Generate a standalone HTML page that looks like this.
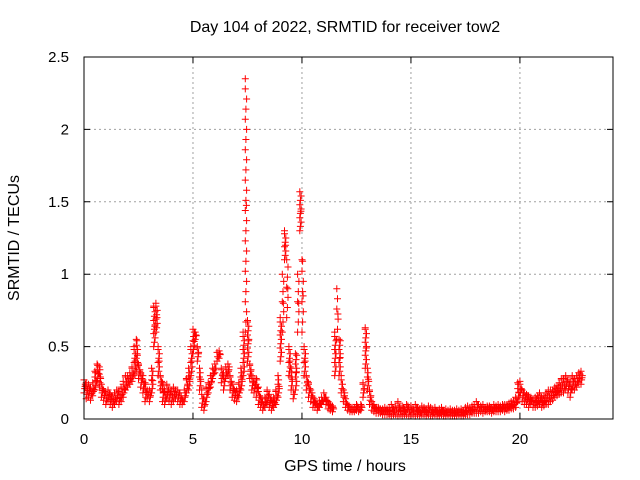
<!DOCTYPE html>
<html><head><meta charset="utf-8"><style>
body{margin:0;background:#fff;}
svg{display:block;font-family:"Liberation Sans",sans-serif;}
</style></head><body>
<svg id="chart" width="640" height="480">
<text x="345" y="32" font-size="16" text-anchor="middle">Day 104 of 2022, SRMTID for receiver tow2</text>
<g id="grid"></g>
<g id="ticks"></g>
<g id="marks"></g>
<rect x="84" y="57" width="529" height="362" fill="none" stroke="#000" stroke-width="1"/>
<text x="345" y="471" font-size="16" text-anchor="middle">GPS time / hours</text>
<text transform="translate(19,238) rotate(-90)" font-size="16" text-anchor="middle">SRMTID / TECUs</text>
</svg>
<script>
const xTicks=[0,5,10,15,20];
const yTicks=[0,0.5,1,1.5,2,2.5];
const yTickLabels=["0","0.5","1","1.5","2","2.5"];
const lo=[.18,.14,.15,.13,.16,.2,.25,.22,.15,.13,
.1,.12,.1,.08,.1,.12,.1,.12,.15,.2,
.22,.24,.26,.3,.33,.28,.22,.18,.12,.14,
.12,.18,.5,.6,.3,.2,.12,.1,.14,.12,
.1,.12,.14,.12,.1,.1,.12,.18,.2,.3,
.45,.55,.4,.2,.08,.06,.12,.18,.22,.28,
.32,.4,.42,.25,.2,.28,.3,.2,.15,.13,
.12,.15,.2,.3,.6,.4,.28,.2,.18,.15,
.1,.08,.06,.08,.1,.08,.06,.08,.1,.15,
.4,.6,1.1,.7,.3,.2,.14,.2,.6,1.3,
.6,.3,.2,.15,.12,.08,.08,.06,.08,.1,
.12,.1,.07,.06,.05,.3,.55,.3,.18,.12,
.08,.06,.05,.05,.05,.06,.05,.06,.15,.35,
.2,.1,.06,.05,.04,.04,.04,.03,.03,.03,
.03,.02,.03,.03,.02,.03,.02,.03,.03,.02,
.03,.03,.02,.03,.02,.03,.03,.02,.03,.02,
.02,.03,.02,.02,.03,.02,.02,.03,.02,.02,
.02,.02,.03,.02,.02,.03,.03,.03,.04,.04,
.04,.04,.05,.04,.05,.05,.05,.04,.05,.05,
.05,.05,.06,.05,.06,.06,.07,.07,.08,.12,
.15,.12,.1,.1,.08,.1,.08,.08,.09,.1,
.08,.09,.1,.1,.12,.13,.15,.16,.17,.18,
.18,.2,.18,.15,.2,.2,.22,.25,.24];
const hi=[.27,.25,.24,.22,.25,.33,.38,.36,.24,.2,
.18,.2,.17,.16,.18,.2,.19,.22,.26,.3,
.3,.32,.36,.5,.55,.38,.32,.3,.25,.2,
.2,.35,.78,.8,.5,.3,.25,.2,.24,.2,
.2,.22,.2,.2,.18,.14,.2,.28,.35,.5,
.62,.6,.5,.35,.2,.14,.22,.25,.3,.35,
.38,.46,.47,.35,.32,.36,.38,.3,.24,.2,
.2,.25,.35,.6,2.35,.68,.38,.3,.25,.28,
.22,.15,.12,.15,.2,.17,.13,.15,.2,.3,
.7,1.0,1.3,1.1,.5,.35,.2,.45,1.0,1.57,
1.1,.5,.3,.25,.2,.15,.12,.1,.13,.15,
.18,.15,.12,.1,.09,.6,.9,.55,.3,.2,
.14,.1,.08,.08,.08,.1,.08,.1,.25,.63,
.35,.2,.12,.1,.08,.08,.07,.07,.08,.07,
.08,.1,.07,.09,.12,.08,.09,.07,.1,.08,
.09,.07,.1,.08,.07,.09,.08,.07,.09,.08,
.07,.08,.06,.07,.08,.06,.07,.06,.07,.06,
.06,.07,.06,.07,.06,.08,.09,.08,.09,.1,
.12,.1,.09,.1,.08,.09,.09,.08,.1,.09,
.1,.09,.1,.1,.1,.11,.12,.13,.15,.25,
.26,.2,.18,.17,.16,.15,.14,.15,.16,.18,
.15,.16,.18,.2,.2,.2,.22,.23,.25,.28,
.28,.3,.27,.26,.3,.28,.3,.32,.33];
const X0=84,X1=613,Y0=419,Y1=57,XMAX=24.27,YMAX=2.5;
const sx=t=>X0+(X1-X0)*t/XMAX;
const sy=v=>Y0-(Y0-Y1)*v/YMAX;
const NS="http://www.w3.org/2000/svg";
const grid=document.getElementById('grid'),ticks=document.getElementById('ticks'),marks=document.getElementById('marks');
function mk(tag,attrs,parent){const e=document.createElementNS(NS,tag);for(const k in attrs)e.setAttribute(k,attrs[k]);parent.appendChild(e);return e;}
xTicks.forEach((t,i)=>{
  const x=sx(t);
  if(t>0){const g=mk('line',{x1:x,x2:x,y1:Y0,y2:Y1,stroke:'#a0a0a0','stroke-dasharray':'2,3'},grid);
  
  }
  const tk=mk('path',{d:`M${x},${Y0}v-6M${x},${Y1}v6`,stroke:'#000'},ticks);
  
  
  const l=mk('text',{x:x,y:444,'font-size':15,'text-anchor':'middle'},ticks);l.textContent=String(t);
  
  
});
yTicks.forEach((v,i)=>{
  const y=sy(v);
  if(v>0&&v<YMAX){const g=mk('line',{x1:X0,x2:X1,y1:y,y2:y,stroke:'#a0a0a0','stroke-dasharray':'2,3'},grid);
  
  }
  const tk=mk('path',{d:`M${X0},${y}h6M${X1},${y}h-6`,stroke:'#000'},ticks);
  
  
  const l=mk('text',{x:69,y:y+5,'font-size':15,'text-anchor':'end'},ticks);l.textContent=yTickLabels[i];
  
  
});
let d='';
const plus=(t,v)=>{const x=sx(t),y=sy(v);d+=`M${(x-3.5).toFixed(1)},${y.toFixed(1)}h7M${x.toFixed(1)},${(y-3.5).toFixed(1)}v7`;};
lo.forEach((l,i)=>{
  const t=i*0.1,h=hi[i];
  const step=(h-l)>0.3?0.07:0.03;
  for(let v=l,k=0;v<h;v+=step,k++){plus(t+(k%3)*0.03,v);}
  plus(t,h);plus(t+0.05,(l+h)/2);
});
const p=mk('path',{d:d,stroke:'#ff0000','stroke-width':1,fill:'none'},marks);


</script>
</body></html>
